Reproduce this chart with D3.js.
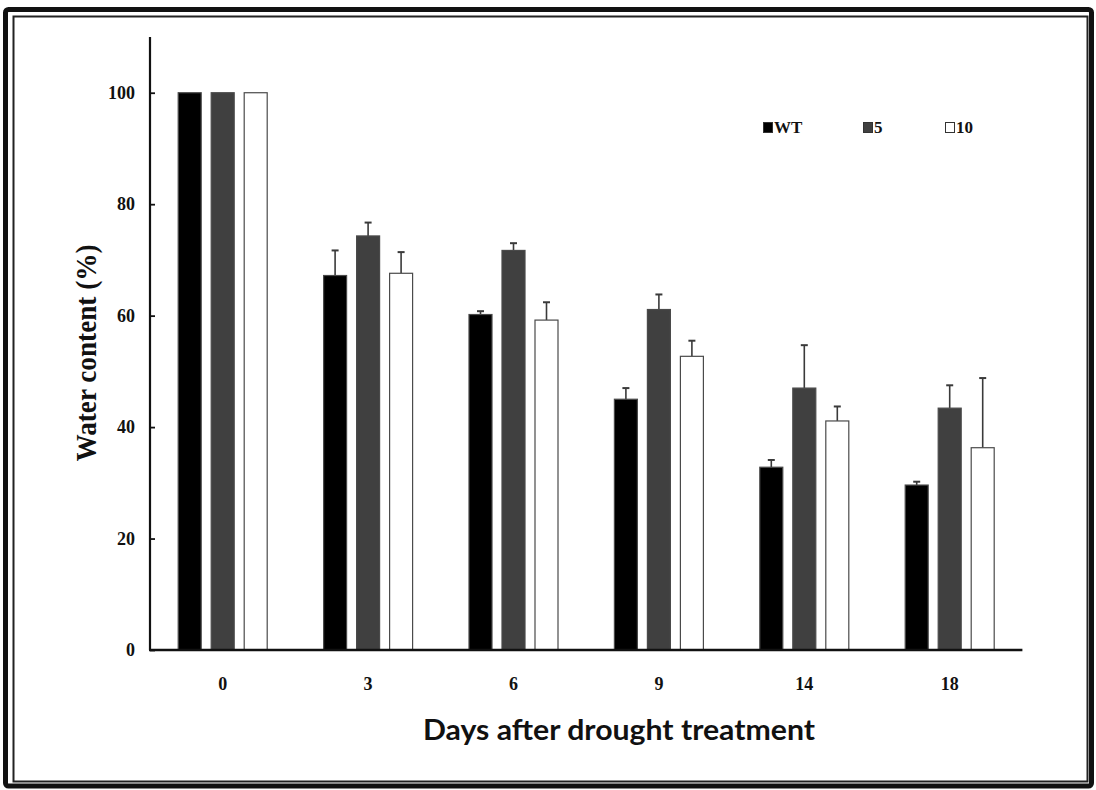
<!DOCTYPE html>
<html>
<head>
<meta charset="utf-8">
<script src="https://cdn.jsdelivr.net/npm/d3@7"></script>
<style>
  html, body { margin: 0; padding: 0; background: #fff; }
  svg { display: block; }
</style>
</head>
<body>
<svg id="chart" width="1096" height="790"></svg>
<script>
// ---- data ----
const categories = ["0", "3", "6", "9", "14", "18"];
const seriesNames = ["WT", "5", "10"];
const wtValues  = [100, 67.2, 60.2, 45.0, 32.8, 29.6];
const s5Values  = [100, 74.3, 71.7, 61.1, 47.0, 43.4];
const s10Values = [100, 67.6, 59.2, 52.7, 41.1, 36.3];
const wtErr  = [0, 4.5, 0.6, 2.0, 1.3, 0.6];
const s5Err  = [0, 2.4, 1.3, 2.7, 7.7, 4.1];
const s10Err = [0, 3.8, 3.2, 2.8, 2.6, 12.5];
const yTicks = [0, 20, 40, 60, 80, 100];
const yTitle = "Water content (%)";
const xTitle = "Days after drought treatment";

const fills = ["#000000", "#404040", "#ffffff"];
const valuesBySeries = [wtValues, s5Values, s10Values];
const errBySeries = [wtErr, s5Err, s10Err];

const svg = d3.select("#chart");

// frame
svg.append("rect").attr("x", 5.5).attr("y", 9.5).attr("width", 1086).attr("height", 776.5)
  .attr("fill", "none").attr("stroke", "#111").attr("stroke-width", 5).attr("rx", 3);
svg.append("rect").attr("x", 13.5).attr("y", 16.5).attr("width", 1074).attr("height", 765)
  .attr("fill", "none").attr("stroke", "#222").attr("stroke-width", 2);

const x0 = 150, x1 = 1022.4, yBottom = 650, yTop = 37;
const x = d3.scaleBand().domain(categories).range([x0, x1]).paddingInner(0).paddingOuter(0);
const y = d3.scaleLinear().domain([0, 110]).range([yBottom, yTop]);

const barW = 23, barStep = 33;

const rows = [];
categories.forEach((c, i) => {
  seriesNames.forEach((s, j) => {
    rows.push({cat: c, s: j, v: valuesBySeries[j][i], e: errBySeries[j][i]});
  });
});

const g = svg.append("g");
const cx = d => x(d.cat) + x.bandwidth() / 2 + (d.s - 1) * barStep;

// error bars (drawn first, bar covers lower part)
const eb = g.selectAll(".err").data(rows.filter(d => d.e > 0)).enter().append("g");
eb.append("line")
  .attr("x1", cx).attr("x2", cx)
  .attr("y1", d => y(d.v)).attr("y2", d => y(d.v + d.e))
  .attr("stroke", "#3a3a3a").attr("stroke-width", 1.6);
eb.append("line")
  .attr("x1", d => cx(d) - 3.5).attr("x2", d => cx(d) + 3.5)
  .attr("y1", d => y(d.v + d.e)).attr("y2", d => y(d.v + d.e))
  .attr("stroke", "#3a3a3a").attr("stroke-width", 2);

g.selectAll(".bar").data(rows).enter().append("rect")
  .attr("x", d => cx(d) - barW / 2)
  .attr("y", d => y(d.v))
  .attr("width", barW)
  .attr("height", d => y(0) - y(d.v))
  .attr("fill", d => fills[d.s])
  .attr("stroke", "#4a4a4a").attr("stroke-width", 1.2);

// y axis
const yAxis = d3.axisRight(y).tickValues(yTicks).tickSize(5).tickFormat("");
const ya = svg.append("g").attr("transform", `translate(${x0},0)`).call(yAxis);
ya.select(".domain").attr("stroke", "#111").attr("stroke-width", 2.2)
  .attr("d", `M0,${yTop}V${yBottom}`);
ya.selectAll(".tick line").attr("stroke", "#111").attr("stroke-width", 1.8);

svg.append("g").selectAll("text").data(yTicks).enter().append("text")
  .attr("x", 135).attr("y", d => y(d)).attr("dy", "0.35em")
  .attr("text-anchor", "end")
  .attr("font-family", "'Liberation Serif', 'DejaVu Serif', serif")
  .attr("font-weight", "bold").attr("font-size", 18).attr("fill", "#111")
  .text(d => d);

// x axis
const xAxis = d3.axisBottom(x).tickSize(0).tickFormat("");
const xa = svg.append("g").attr("transform", `translate(0,${yBottom})`).call(xAxis);
xa.select(".domain").attr("stroke", "#111").attr("stroke-width", 2.4)
  .attr("d", `M${x0 - 1},0H${x1}`);

svg.append("g").selectAll("text").data(categories).enter().append("text")
  .attr("x", d => x(d) + x.bandwidth() / 2).attr("y", 690)
  .attr("text-anchor", "middle")
  .attr("font-family", "'Liberation Serif', 'DejaVu Serif', serif")
  .attr("font-weight", "bold").attr("font-size", 18).attr("fill", "#111")
  .text(d => d);

// axis titles
svg.append("text")
  .attr("transform", "translate(96,353) rotate(-90)")
  .attr("text-anchor", "middle")
  .attr("font-family", "'Liberation Serif', 'DejaVu Serif', serif")
  .attr("font-weight", "bold").attr("font-size", 29).attr("fill", "#111")
  .attr("textLength", 217).attr("lengthAdjust", "spacingAndGlyphs")
  .text(yTitle);

svg.append("text")
  .attr("x", 619).attr("y", 740)
  .attr("text-anchor", "middle")
  .attr("font-family", "Lato, 'Open Sans', sans-serif")
  .attr("font-weight", "bold").attr("font-size", 29).attr("fill", "#111")
  .attr("textLength", 392).attr("lengthAdjust", "spacingAndGlyphs")
  .text(xTitle);

// legend
const legendX = [763, 863, 945];
const lg = svg.append("g").selectAll("g").data(seriesNames).enter().append("g")
  .attr("transform", (d, i) => `translate(${legendX[i]},122)`);
lg.append("rect").attr("x", 0.5).attr("y", 0.5).attr("width", 9).attr("height", 10)
  .attr("fill", (d, i) => fills[i]).attr("stroke", "#333").attr("stroke-width", 1);
lg.append("text").attr("x", 11).attr("y", 11)
  .attr("font-family", "'Liberation Serif', 'DejaVu Serif', serif")
  .attr("font-weight", "bold").attr("font-size", 17).attr("fill", "#111")
  .text(d => d);
</script>
</body>
</html>
